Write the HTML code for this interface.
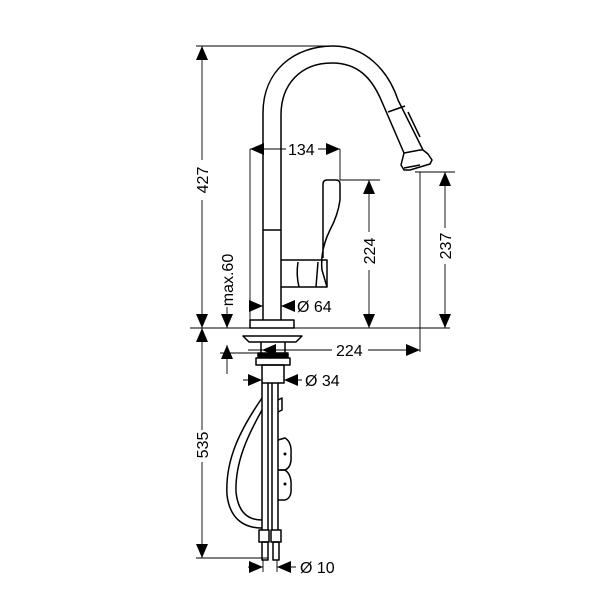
<!DOCTYPE html>
<html><head><style>html,body{margin:0;padding:0;background:#fff}svg{display:block}text{font-family:"Liberation Sans",sans-serif;font-size:16px;fill:#000}</style></head>
<body>
<svg width="600" height="600" viewBox="0 0 600 600" xmlns="http://www.w3.org/2000/svg">
<defs>
<marker id="a" viewBox="0 0 14 12" refX="14" refY="6" markerWidth="14" markerHeight="12" orient="auto-start-reverse" markerUnits="userSpaceOnUse"><path d="M0,0L14,6L0,12z" fill="#000"/></marker>
</defs>
<g fill="none" stroke="#000" stroke-width="0.9">
<line x1="196" y1="46" x2="335" y2="46"/>
<line x1="190" y1="328" x2="450" y2="328"/>
<line x1="196" y1="558" x2="268" y2="558"/>
<line x1="250" y1="149" x2="250" y2="322"/>
<line x1="340" y1="149" x2="340" y2="180"/>
<line x1="340" y1="180" x2="380" y2="180"/>
<line x1="420" y1="172" x2="420" y2="352"/>
<line x1="415" y1="172" x2="455" y2="172"/>
<line x1="220" y1="353" x2="262" y2="353"/>
<line x1="263" y1="560" x2="263" y2="572"/>
<line x1="277" y1="560" x2="277" y2="572"/>
<line x1="202" y1="46" x2="202" y2="160" marker-start="url(#a)"/>
<line x1="202" y1="200" x2="202" y2="328" marker-end="url(#a)"/>
<line x1="202" y1="328" x2="202" y2="430" marker-start="url(#a)"/>
<line x1="202" y1="462" x2="202" y2="558" marker-end="url(#a)"/>
<line x1="250" y1="149" x2="286" y2="149" marker-start="url(#a)"/>
<line x1="318" y1="149" x2="340" y2="149" marker-end="url(#a)"/>
<line x1="369" y1="180" x2="369" y2="232" marker-start="url(#a)"/>
<line x1="369" y1="270" x2="369" y2="328" marker-end="url(#a)"/>
<line x1="445" y1="172" x2="445" y2="228" marker-start="url(#a)"/>
<line x1="445" y1="264" x2="445" y2="328" marker-end="url(#a)"/>
<line x1="227" y1="307" x2="227" y2="328" marker-end="url(#a)"/>
<line x1="227" y1="345" x2="227" y2="374" marker-start="url(#a)"/>
<line x1="250" y1="306" x2="263" y2="306" marker-end="url(#a)"/>
<line x1="294" y1="306" x2="281" y2="306" marker-end="url(#a)"/>
<line x1="248" y1="350" x2="332" y2="350"/>
<line x1="262" y1="350" x2="276" y2="350" marker-start="url(#a)"/>
<line x1="368" y1="350" x2="420" y2="350" marker-end="url(#a)"/>
<line x1="243" y1="380" x2="262" y2="380" marker-end="url(#a)"/>
<line x1="302" y1="380" x2="284" y2="380" marker-end="url(#a)"/>
<line x1="248" y1="567" x2="263" y2="567" marker-end="url(#a)"/>
<line x1="296" y1="567" x2="277" y2="567" marker-end="url(#a)"/>
</g>
<g fill="none" stroke="#000" stroke-width="1.5" stroke-linejoin="round">
<path d="M263,320 L263,113 C263,70 295,46 333,46 C365,46 388,70 398,100 L423,150"/>
<path d="M281,260 L281,115 C281,85 300,63 332,63 C358,63 372,78 382,102 L404,153"/>
<line x1="388" y1="112" x2="405" y2="106"/>
<path d="M408,112 L420,137"/>
<path d="M404,153 L420,150 L423,150 L428,154 L432,160 L430,164 L420,167 L410,170 L404,170 L401,165 Z"/>
<path d="M404,168 L420,165"/>
<line x1="263" y1="230" x2="281" y2="230"/>
<path d="M281,260 L281,287 L327,287 L327,260 Z"/>
<path d="M323,258 L323,184 Q323,180 327,180 L336,180 Q340,180 340,184 L340,200 Q338,215 330,230 Q320,250 322,270 L327,287"/>
<path d="M298,262 Q296,275 299,287 M318,262 L316,287"/>
<path d="M281,287 L281,320"/>
<rect x="250" y="320" width="44" height="8"/>
<path d="M243,336 L302,336 L296,342 L249,342 Z"/>
<path d="M261,342 L261,353 M285,342 L285,353"/>
<rect x="258" y="353" width="30" height="4" fill="#000"/>
<path d="M256,358 L290,358 L290,365 L256,365 Z"/>
<rect x="262" y="365" width="22" height="18"/>
<path d="M262,383 L262,530 M268,383 L268,530 M272,383 L272,530 M278,383 L278,530"/>
<path d="M262,398 C240,430 225,460 227,495 C230,520 245,528 262,528"/>
<path d="M262,410 C248,435 235,462 236,492 C238,512 248,520 262,520"/>
<path d="M278,440 L285,438 Q292,442 291,455 Q292,467 285,470 L278,470"/>
<path d="M278,470 L285,470 Q292,475 291,487 Q292,498 285,500 L278,500"/>
<path d="M278,400 L282,398 L282,410 L278,412"/>
<rect x="259" y="530" width="10" height="12"/><rect x="271" y="530" width="10" height="12"/>
<rect x="262" y="542" width="6" height="18"/><rect x="273" y="542" width="6" height="18"/>
</g>
<circle cx="285" cy="454" r="1.5"/><circle cx="285" cy="484" r="1.5"/>
<text x="288" y="155">134</text>
<text x="297" y="312">Ø 64</text>
<text x="336" y="356">224</text>
<text x="305" y="386">Ø 34</text>
<text x="300" y="573">Ø 10</text>
<text transform="translate(208,180) rotate(-90)" text-anchor="middle">427</text>
<text transform="translate(208,445) rotate(-90)" text-anchor="middle">535</text>
<text transform="translate(375,251) rotate(-90)" text-anchor="middle">224</text>
<text transform="translate(451,246) rotate(-90)" text-anchor="middle">237</text>
<text transform="translate(233,280) rotate(-90)" text-anchor="middle">max.60</text>
</svg>
</body></html>
